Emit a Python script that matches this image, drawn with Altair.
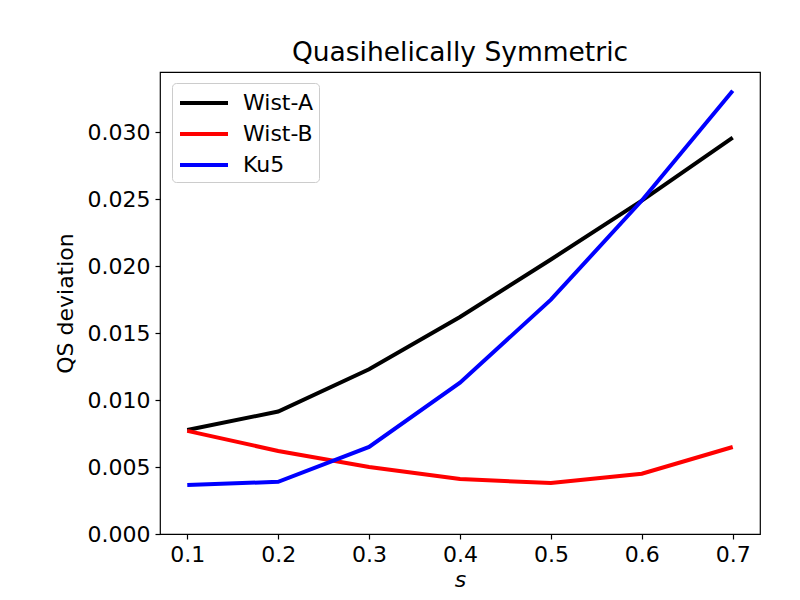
import altair as alt
import pandas as pd

s_vals = [0.1, 0.2, 0.3, 0.4, 0.5, 0.6, 0.7]
wist_a = [0.00776, 0.00915, 0.0123, 0.0162, 0.0205, 0.0249, 0.0296]
wist_b = [0.0077, 0.0062, 0.0050, 0.0041, 0.0038, 0.0045, 0.0065]
ku5 = [0.00365, 0.0039, 0.0065, 0.0113, 0.0175, 0.0249, 0.0331]
series_names = ["Wist-A", "Wist-B", "Ku5"]
series_colors = ["#000000", "#ff0000", "#0000ff"]

rows = []
for name, vals in zip(series_names, [wist_a, wist_b, ku5]):
    for s, v in zip(s_vals, vals):
        rows.append({"s": s, "dev": v, "series": name})
df = pd.DataFrame(rows)

FONT = "DejaVu Sans"

chart = alt.Chart(df).mark_line(strokeWidth=4, clip=True).encode(
    x=alt.X("s:Q", title="s",
            scale=alt.Scale(domain=[0.07, 0.73], nice=False, zero=False),
            axis=alt.Axis(values=s_vals, format=".1f", titleFontStyle="italic")),
    y=alt.Y("dev:Q", title="QS deviation",
            scale=alt.Scale(domain=[0, 0.0345], nice=False),
            axis=alt.Axis(values=[0, 0.005, 0.01, 0.015, 0.02, 0.025, 0.03], format=".3f")),
    color=alt.Color("series:N", sort=series_names,
                    scale=alt.Scale(domain=series_names, range=series_colors),
                    legend=alt.Legend(title=None, orient="none", legendX=12, legendY=11,
                                      symbolType="M-1,0H3", symbolSize=576, symbolStrokeWidth=4,
                                      symbolFillColor="transparent",
                                      labelFontSize=22, labelFont=FONT, labelColor="black",
                                      labelOffset=37, rowPadding=6, padding=6,
                                      strokeColor="#cccccc", fillColor="white", cornerRadius=4)),
    order="series:N",
).properties(
    width=600, height=462,
    title=alt.TitleParams("Quasihelically Symmetric", fontSize=26.5, font=FONT,
                          fontWeight="normal", color="black", offset=6),
    autosize=alt.AutoSizeParams(type="none"),
    padding={"left": 152, "top": 64, "right": 32, "bottom": 58},
).configure_view(
    stroke="black", strokeWidth=1.2
).configure_axis(
    labelFont=FONT, titleFont=FONT, labelFontSize=22, titleFontSize=22,
    labelColor="black", titleColor="black", titleFontWeight="normal",
    grid=False, domain=False, tickColor="black", tickSize=5, tickWidth=1.2,
    labelPadding=5
).configure_axisY(titlePadding=10).configure_axisX(titlePadding=4)

chart.save("out.html", embed_options={"renderer": "svg", "actions": False})
